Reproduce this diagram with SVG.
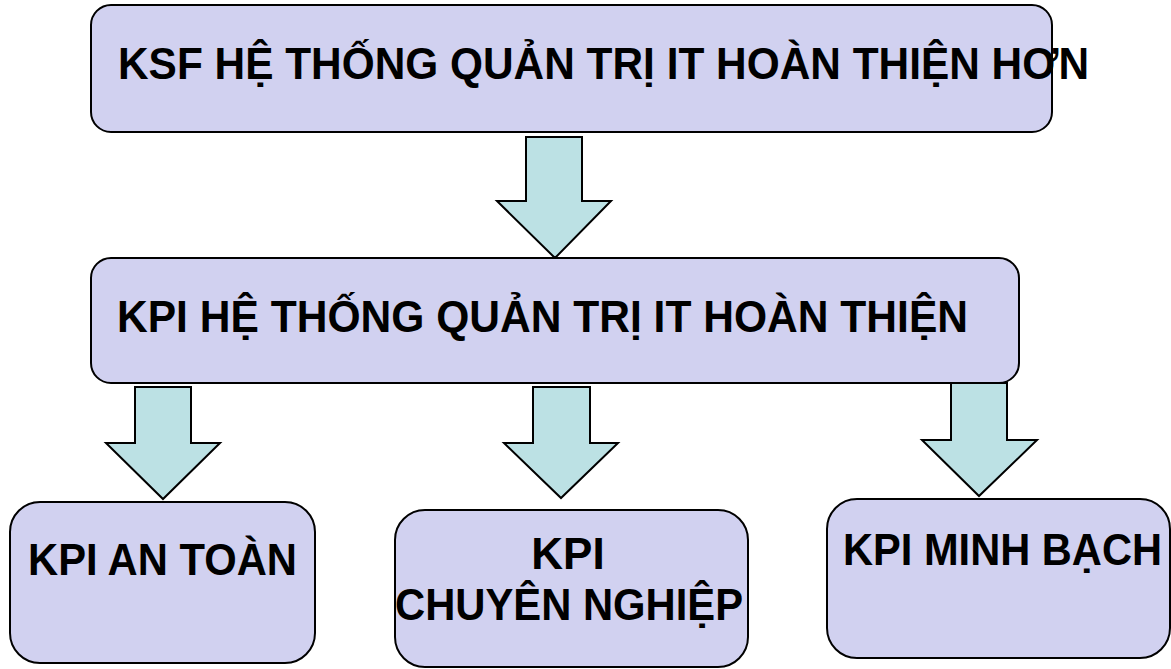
<svg xmlns="http://www.w3.org/2000/svg" width="1171" height="669" viewBox="0 0 1171 669">
  <style>
    .box { fill: #D1D1F0; stroke: #000; stroke-width: 2; }
    .arrow { fill: #BCE1E4; stroke: #000; stroke-width: 2; stroke-linejoin: miter; }
    .label { font-family: "Liberation Sans", Arial, sans-serif; font-weight: bold; font-size: 44px; fill: #000; }
  </style>
  <rect width="1171" height="669" fill="#fff"/>

  <g id="connectors">
    <polygon class="arrow" points="526,137 582,137 582,201 611,201 555,258 497,201 526,201"/>
    <polygon class="arrow" points="135,387 191,387 191,443 220,443 163,499 106,443 135,443"/>
    <polygon class="arrow" points="533,387 590,387 590,443 618,443 561,498 504,443 533,443"/>
    <polygon class="arrow" points="951,383 1007,383 1007,440 1037,440 979,496 922,440 951,440"/>
  </g>

  <g id="ksf">
    <rect class="box" x="91" y="5" width="961" height="127" rx="20" ry="20"/>
    <text class="label" x="118" y="79" textLength="971" lengthAdjust="spacingAndGlyphs">KSF HỆ THỐNG QUẢN TRỊ IT HOÀN THIỆN HƠN</text>
  </g>

  <g id="kpi-main">
    <rect class="box" x="91" y="258" width="928" height="125" rx="20" ry="20"/>
    <text class="label" x="117" y="332" textLength="851" lengthAdjust="spacingAndGlyphs">KPI HỆ THỐNG QUẢN TRỊ IT HOÀN THIỆN</text>
  </g>

  <g id="kpi-an-toan">
    <rect class="box" x="10" y="502" width="305" height="161" rx="30" ry="30"/>
    <text class="label" x="28" y="575" textLength="269" lengthAdjust="spacingAndGlyphs">KPI AN TOÀN</text>
  </g>

  <g id="kpi-chuyen-nghiep">
    <rect class="box" x="395" y="510" width="353" height="157" rx="30" ry="30"/>
    <text class="label" x="568" y="569" text-anchor="middle">KPI</text>
    <text class="label" x="395" y="620" textLength="348" lengthAdjust="spacingAndGlyphs">CHUYÊN NGHIỆP</text>
  </g>

  <g id="kpi-minh-bach">
    <rect class="box" x="827" y="499" width="343" height="159" rx="30" ry="30"/>
    <text class="label" x="843" y="565" textLength="319" lengthAdjust="spacingAndGlyphs">KPI MINH BẠCH</text>
  </g>
</svg>
